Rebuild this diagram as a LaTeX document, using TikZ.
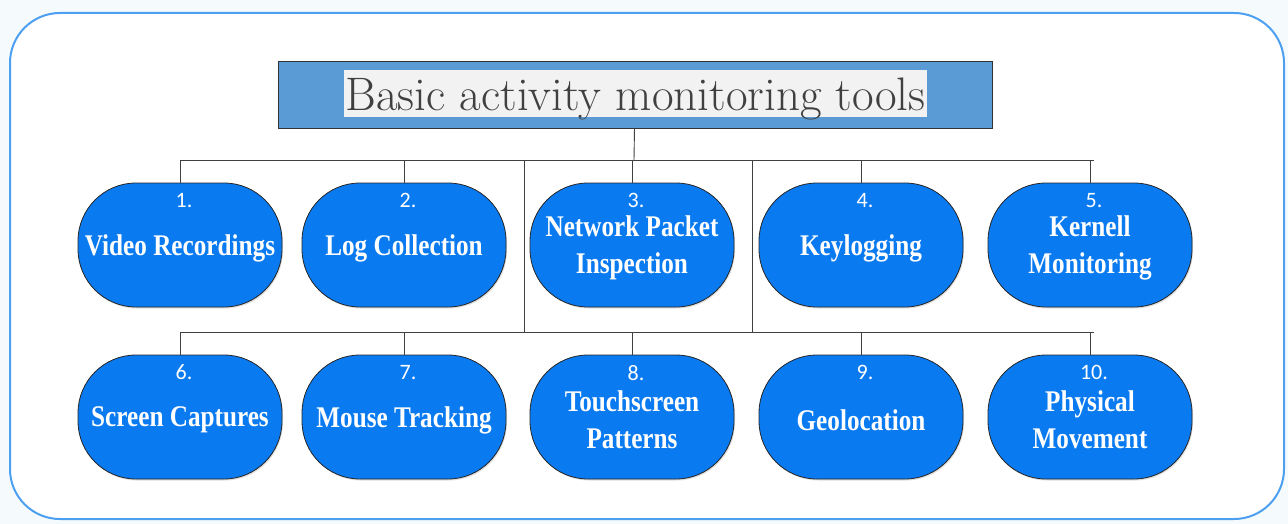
\documentclass[tikz,border=0pt]{standalone}
\usepackage{fontspec}
\newfontfamily\numfont{Carlito}
\newfontfamily\lblfont{Liberation Serif}[FakeStretch=0.84]
\usetikzlibrary{shadows}
\definecolor{toolblue}{RGB}{10,122,240}
\definecolor{headblue}{RGB}{91,155,213}
\definecolor{framblue}{RGB}{77,160,240}
\definecolor{paper}{RGB}{245,251,253}

\begin{document}
\begin{tikzpicture}[x=1pt,y=-1pt]
        \tikzstyle{tool}=[rounded corners=58pt,draw=black!85,thick,fill=toolblue,minimum width=204pt,minimum height=124pt,drop shadow={opacity=0.25,shadow xshift=1pt,shadow yshift=-1.5pt}]
        \tikzstyle{num}=[text=white,anchor=center,xshift=4pt,yshift=-18pt,inner sep=0pt,font=\numfont\fontsize{22}{22}\selectfont]
        \tikzstyle{toolname}=[text=white,anchor=center,yshift=-3pt,inner sep=0pt,align=center,font=\lblfont\bfseries\fontsize{30}{37}\selectfont]
        \tikzstyle{bus}=[draw=black!75,line width=0.9pt]

        % page and frame
        \fill[paper] (0,0) rectangle (1288,524);
        \useasboundingbox (0,0) rectangle (1288,524);
        \draw[framblue,line width=2pt,fill=white,rounded corners=50pt] (10,13) rectangle (1284,519);

        \node[draw=black!80,thick,fill=headblue,minimum width=714pt,minimum height=67pt] (title) at (635,94.5) {};
        \node[fill=black!5,text=black!75,inner xsep=2pt,inner ysep=1.5pt,text height=39pt,text depth=5pt,font=\rmfamily\fontsize{47}{47}\selectfont] (ttext) at (635.5,94) {Basic activity monitoring tools};

        \begin{scope}
         \coordinate (top) at (634,160);
         \coordinate (busl) at (180,160);
         \coordinate (busr) at (1094,160);
         \coordinate (lowl) at (180,332);
         \coordinate (lowr) at (1094,332);
         \coordinate (ja) at (524,160);
         \coordinate (jb) at (524,332);
         \coordinate (ka) at (752,160);
         \coordinate (kb) at (752,332);

         \path[bus] (title) -- (top);
         \path[bus] (busl) -- (busr);
         \path[bus] (lowl) -- (lowr);
         \path[bus] (ja) -- (jb);
         \path[bus] (ka) -- (kb);

         \node[tool,label={[num]north:1.},label={[toolname]center:Video Recordings}] (t1) at (180,245) {};
         \node[tool,label={[num]north:2.},label={[toolname]center:Log Collection}] (t2) at (404,245) {};
         \node[tool,label={[num]north:3.},label={[toolname]center:Network Packet\\Inspection}] (t3) at (632,245) {};
         \node[tool,label={[num]north:4.},label={[toolname]center:Keylogging}] (t4) at (861,245) {};
         \node[tool,label={[num]north:5.},label={[toolname]center:Kernell\\Monitoring}] (t5) at (1090,245) {};

         \node[tool,label={[num]north:6.},label={[toolname]center:Screen Captures}] (t6) at (180,417) {};
         \node[tool,label={[num]north:7.},label={[toolname]center:Mouse Tracking}] (t7) at (404,417) {};
         \node[tool,label={[num]north:8.},label={[toolname]center:Touchscreen\\Patterns}] (t8) at (632,417) {};
         \node[tool,label={[num]north:9.},label={[toolname]center:Geolocation}] (t9) at (861,417) {};
         \node[tool,label={[num]north:10.},label={[toolname]center:Physical\\Movement}] (t10) at (1090,417) {};

         \foreach \t in {t1,t2,t3,t4,t5}
           \path[bus] (\t |- busl) -- (\t.north);
         \foreach \t in {t6,t7,t8,t9,t10}
           \path[bus] (\t |- lowl) -- (\t.north);
        \end{scope}
\end{tikzpicture}
\end{document}
